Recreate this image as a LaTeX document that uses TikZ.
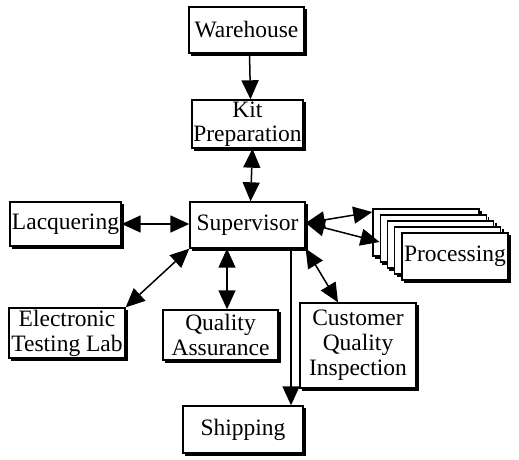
\documentclass[tikz,border=0pt]{standalone}
\usepackage{fontspec}
\setmainfont{Liberation Serif}
\usetikzlibrary{arrows.meta,calc}
\newcommand\shd[1]{\draw[line width=1.8pt] ([xshift=1.5pt,yshift=-2.5pt]#1.north east) -- ([xshift=1.5pt,yshift=-1.5pt]#1.south east) -- ([xshift=2.5pt,yshift=-1.5pt]#1.south west);}
\begin{document}
\begin{tikzpicture}[x=1pt,y=-1pt,
  box/.style={draw,line width=1.4pt,fill=white,
    inner sep=0pt,align=center,font=\fontsize{23.5}{25}\selectfont},
  arr/.style={line width=1.5pt,-{Triangle[length=19pt,width=17pt]}},
  darr/.style={line width=1.5pt,{Triangle[length=19pt,width=17pt]}-{Triangle[length=19pt,width=17pt]}}]
\useasboundingbox (0,0) rectangle (519,459);
\node[box,minimum width=115pt,minimum height=46pt] (wh) at (246.5,30) {Warehouse};\shd{wh}
\node[box,minimum width=111pt,minimum height=48pt] (kit) at (247.5,124) {Kit\\[-1.5pt]Preparation};\shd{kit}
\node[box,minimum width=115pt,minimum height=46pt] (sup) at (247.5,225) {Supervisor};\shd{sup}
\node[box,minimum width=111pt,minimum height=44pt] (lac) at (65.5,224) {Lacquering};\shd{lac}
\node[box,minimum width=116pt,minimum height=50pt] (etl) at (67,333) {Electronic\\Testing Lab};\shd{etl}
\node[box,minimum width=115pt,minimum height=50pt] (qa) at (220.5,335) {Quality\\Assurance};\shd{qa}
\node[box,minimum width=116pt,minimum height=85pt] (cqi) at (358,345.5) {Customer\\Quality\\Inspection};\shd{cqi}
\node[box,minimum width=120pt,minimum height=47pt] (ship) at (243,429.5) {Shipping};\shd{ship}
\node[box,minimum width=106pt,minimum height=47pt] (p1) at (426,232.5) {};\shd{p1}
\node[box,minimum width=106pt,minimum height=47pt] (p2) at (433.25,238.5) {};\shd{p2}
\node[box,minimum width=106pt,minimum height=47pt] (p3) at (440.5,244.5) {};\shd{p3}
\node[box,minimum width=106pt,minimum height=47pt] (p4) at (447.75,250.5) {};\shd{p4}
\node[box,minimum width=106pt,minimum height=47pt] (proc) at (455,256.5) {Processing};\shd{proc}
\draw[arr] ([xshift=3pt]wh.south) -- ([xshift=3pt]kit.north);
\draw[darr] ([xshift=5pt]kit.south) -- ([xshift=3pt]sup.north);
\draw[darr] (lac.east) -- (lac.east -| sup.west);
\draw[darr] (etl.north east) -- (sup.south west);
\draw[darr] ([xshift=6.5pt]qa.north |- sup.south) -- ([xshift=6.5pt]qa.north);
\draw[arr] ([xshift=43.5pt]sup.south) -- ([xshift=43.5pt]sup.south |- ship.north);
\draw[darr] (sup.south east) -- ([xshift=-20pt]cqi.north);
\draw[darr] ([yshift=2pt]sup.east) -- ([yshift=20.5pt]p1.west);
\draw[darr] ([yshift=2pt]sup.east) -- ([yshift=-3.5pt]p2.west);
\end{tikzpicture}
\end{document}
